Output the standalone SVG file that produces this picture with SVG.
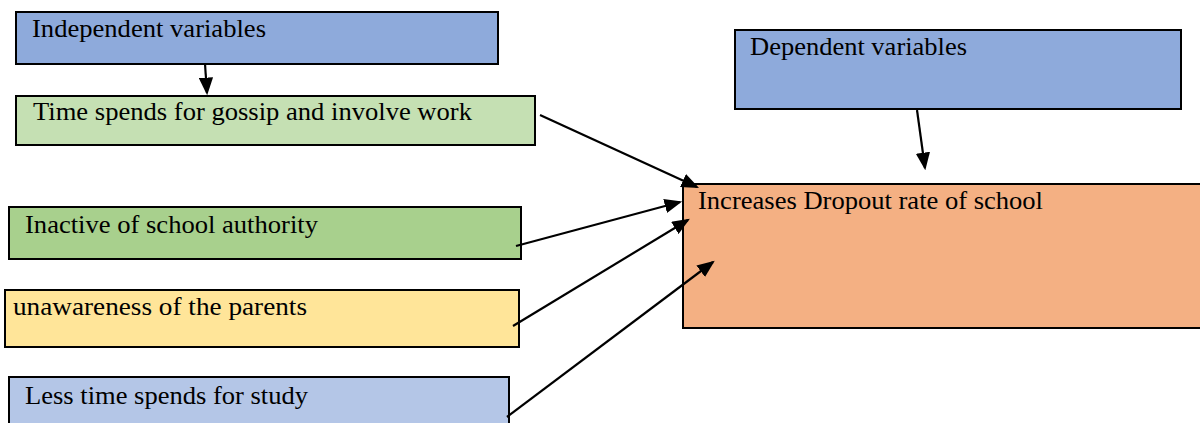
<svg xmlns="http://www.w3.org/2000/svg" width="1200" height="423" viewBox="0 0 1200 423">
<style>
.box{stroke:#000;stroke-width:2}
text{font-family:'Liberation Serif','DejaVu Serif',serif;font-size:24.5px;fill:#000}
.c{stroke:#000;stroke-width:2.2;fill:none;marker-end:url(#ah)}
</style>
<defs>
<marker id="ah" markerWidth="8" markerHeight="6.5" refX="7" refY="3.25" orient="auto" markerUnits="strokeWidth">
<path d="M0,0 L8,3.25 L0,6.5 Z" fill="#000"/>
</marker>
</defs>
<rect width="1200" height="423" fill="#fff"/>
<g id="n-independent"><rect class="box" x="16" y="12" width="482" height="52" fill="#8EAADB"/><text x="32" y="37" textLength="234" lengthAdjust="spacingAndGlyphs">Independent variables</text></g>
<g id="n-gossip"><rect class="box" x="16" y="96" width="519" height="49" fill="#C5E0B3"/><text x="33" y="120" textLength="439" lengthAdjust="spacingAndGlyphs">Time spends for gossip and involve work</text></g>
<g id="n-dependent"><rect class="box" x="735" y="30" width="446" height="79" fill="#8EAADB"/><text x="750" y="55" textLength="217" lengthAdjust="spacingAndGlyphs">Dependent variables</text></g>
<g id="n-dropout"><rect class="box" x="683" y="184" width="520" height="144" fill="#F4B083"/><text x="698" y="209" textLength="345" lengthAdjust="spacingAndGlyphs">Increases Dropout rate of school</text></g>
<g id="n-inactive"><rect class="box" x="9" y="207" width="512" height="52" fill="#A8D08D"/><text x="25" y="233" textLength="293" lengthAdjust="spacingAndGlyphs">Inactive of school authority</text></g>
<g id="n-parents"><rect class="box" x="5" y="290" width="514" height="57" fill="#FFE599"/><text x="13" y="315" textLength="294" lengthAdjust="spacingAndGlyphs">unawareness of the parents</text></g>
<g id="n-study"><rect class="box" x="9" y="377" width="500" height="50" fill="#B4C6E7"/><text x="25" y="404" textLength="283" lengthAdjust="spacingAndGlyphs">Less time spends for study</text></g>
<g id="connectors">
<line class="c" x1="205" y1="64" x2="207" y2="93"/>
<line class="c" x1="917" y1="110" x2="925" y2="168"/>
<line class="c" x1="540" y1="115" x2="697" y2="187"/>
<line class="c" x1="516" y1="246" x2="680" y2="202"/>
<line class="c" x1="513" y1="326" x2="688" y2="220"/>
<line class="c" x1="507" y1="417" x2="713" y2="262"/>
</g>
</svg>
